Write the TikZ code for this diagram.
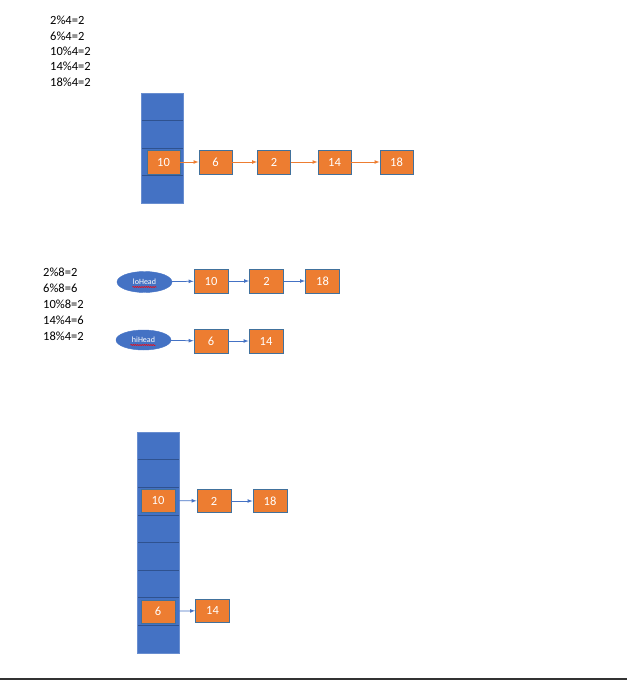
\documentclass[tikz,border=0pt]{standalone}
\usepackage{fontspec}
\setmainfont{Carlito}
\usepackage{tikz}
\usetikzlibrary{positioning,shapes.geometric,decorations.pathmorphing}

\definecolor{offblue}{HTML}{4472C4}
\definecolor{celledge}{HTML}{2F528F}
\definecolor{offorange}{HTML}{ED7D31}
\definecolor{boxedge}{HTML}{41719C}

\tikzset{
  entry/.style={draw=boxedge,fill=offorange,text=white,line width=0.8pt,
    minimum width=33pt,minimum height=24pt,inner sep=0pt,font=\fontsize{12.5}{15}\selectfont},
  head/.style={ellipse,draw=offblue,fill=offblue,text=white,minimum width=55pt,
    minimum height=21pt,inner sep=0pt,font=\fontsize{8}{9}\selectfont},
  calc/.style={anchor=west,inner sep=0pt,font=\fontsize{12.5}{15}\selectfont},
  olink/.style={draw=offorange,line width=0.75pt,-latex},
  blink/.style={draw=offblue,line width=0.75pt,-latex},
  squiggle/.style={draw=red,line width=0.5pt,decorate,
    decoration={snake,amplitude=0.6pt,segment length=2.2pt}}
}

\begin{document}
\begin{tikzpicture}[x=1pt,y=-1pt]
  \useasboundingbox (0,0) rectangle (627,680);

  % first table, modulo 4
  \foreach \t [count=\i from 0] in {2\%4=2,6\%4=2,10\%4=2,14\%4=2,18\%4=2}
    \node[calc] (qa\i) at (50,20.7+15.3*\i) {\t};
  \fill[offblue] (141,93) rectangle (183,203);
  \foreach \n in {1,2,3}
    \draw[celledge,line width=0.6pt] (141,93+27.5*\n) -- (183,93+27.5*\n);
  \draw[offblue!80!white,line width=0.6pt] (141,93) rectangle (183,203);

  \node[entry] (a10) at (163.5,162) {10};
  \node[entry] (a6) at (215.5,162) {6};
  \node[entry] (a2) at (274,162) {2};
  \node[entry] (a14) at (334.5,162) {14};
  \node[entry] (a18) at (396.5,162) {18};
  \draw[olink] (a10) -- (a6);
  \draw[olink] (a6) -- (a2);
  \draw[olink] (a2) -- (a14);
  \draw[olink] (a14) -- (a18);

  % split into lo / hi lists
  \foreach \t [count=\i from 0] in {2\%8=2,6\%8=6,10\%8=2,14\%4=6,18\%4=2}
    \node[calc] (qb\i) at (43,272.5+15.9*\i) {\t};
  \node[head] (lo) at (144.5,282) {loHead};
  \node[head,minimum height=20pt] (hi) at (143.5,340) {hiHead};
  \draw[squiggle] ([xshift=-12pt,yshift=-5pt]lo.center) -- ([xshift=12pt,yshift=-5pt]lo.center);
  \draw[squiggle] ([xshift=-13pt,yshift=-5pt]hi.center) -- ([xshift=12pt,yshift=-5pt]hi.center);

  \node[entry,minimum width=34pt] (m10) at (211,281) {10};
  \node[entry,minimum width=34pt] (m2) at (266.5,281) {2};
  \node[entry,minimum width=34pt] (m18) at (322.5,281) {18};
  \node[entry,minimum width=34pt] (m6) at (211,341) {6};
  \node[entry,minimum width=34pt] (m14) at (266,341) {14};
  \draw[blink] (lo) -- (m10);
  \draw[blink] (m10) -- (m2);
  \draw[blink] (m2) -- (m18);
  \draw[blink] (hi) -- (m6);
  \draw[blink] (m6) -- (m14);

  % second table, size 8
  \fill[offblue] (137,432) rectangle (179,653);
  \foreach \n in {1,...,7}
    \draw[celledge,line width=0.6pt] (137,432+27.625*\n) -- (179,432+27.625*\n);
  \draw[offblue!80!white,line width=0.6pt] (137,432) rectangle (179,653);

  \node[entry,minimum width=34pt,minimum height=23pt] (b10) at (158,500.5) {10};
  \node[entry,minimum width=34pt,minimum height=23pt] (b2) at (214,501) {2};
  \node[entry,minimum width=34pt,minimum height=23pt] (b18) at (270,501) {18};
  \node[entry,minimum width=34pt,minimum height=23pt] (b6) at (158,611.5) {6};
  \node[entry,minimum width=34pt,minimum height=23pt] (b14) at (212.5,610.5) {14};
  \draw[blink] (b10) -- (b2);
  \draw[blink] (b2) -- (b18);
  \draw[blink] (b6) -- (b14);

  \draw[black!80,line width=1.2pt] (0,679) -- (627,679);
\end{tikzpicture}
\end{document}
